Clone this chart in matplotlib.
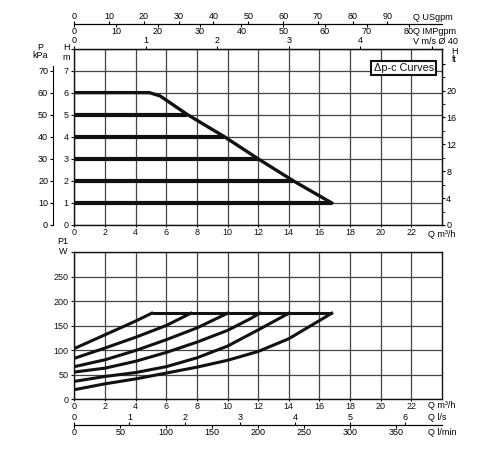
import matplotlib
matplotlib.use("Agg")
import matplotlib.pyplot as plt

plt.rcParams['font.family'] = ['Liberation Sans', 'DejaVu Sans']
plt.rcParams['font.size'] = 6.5

# unit conversions used by the extra scales
M3H_TO_USGPM = 4.403
M3H_TO_IMPGPM = 3.666
M3H_PER_MS = 4.67        # velocity in a DN40 pipe
M_TO_KPA = 10.0
M_TO_FT = 3.2808
M3H_TO_LS = 1 / 3.6
M3H_TO_LMIN = 1000 / 60

# ---- head curves (dp-c) ----
setpoints = [1, 2, 3, 4, 5]               # m
setpoint_qmax = [16.8, 14.3, 12.0, 9.8, 7.35]
limit_q = [0, 4.9, 5.6, 7.35, 9.8, 12.0, 14.3, 16.8]
limit_h = [6, 6, 5.85, 5.02, 4, 3, 2, 1]

# ---- power input P1 per setpoint (6 m down to 1 m) ----
p1_q = [
    [0, 2, 4, 5.05],
    [0, 2, 4, 6, 7.6],
    [0, 2, 4, 6, 8, 10.0],
    [0, 2, 4, 6, 8, 10, 11.5, 12.1],
    [0, 2, 4, 6, 8, 10, 12, 14.0],
    [0, 2, 4, 6, 8, 10, 12, 14, 16, 16.8],
]
p1_w = [
    [103, 131, 159, 175],
    [83, 104, 126, 150, 175],
    [66, 80, 99, 121, 145, 175],
    [55, 63, 77, 95, 116, 140, 164, 175],
    [36, 46, 54, 66, 84, 108, 141, 175],
    [19, 31, 41, 53, 65, 79, 97, 123, 160, 175],
]
p1_max_q = [5.05, 16.8]
p1_max_w = [175, 175]

q_ticks = list(range(0, 24, 2))
h_ticks = list(range(0, 9))
h_labels = [str(t) for t in range(0, 8)] + ['']
kpa_ticks = list(range(0, 80, 10))
ft_ticks = list(range(0, 25, 4))
ft_labels = [str(t) for t in range(0, 21, 4)] + ['']
ft_minor = list(range(2, 25, 4))
w_ticks = list(range(0, 301, 50))
w_labels = [str(t) for t in range(0, 251, 50)] + ['']
usgpm_ticks = list(range(0, 100, 10))
impgpm_ticks = list(range(0, 90, 10))
v_ticks = [0, 1, 2, 3, 4, 5]
v_labels = ['0', '1', '2', '3', '4', '']
ls_ticks = list(range(0, 7))
lmin_ticks = list(range(0, 400, 50))

INK = '#111111'
GRID = '#444444'

fig = plt.figure(figsize=(5, 4.5), dpi=100)
ax1 = fig.add_axes([0.1486, 0.5, 0.7354, 0.3922])
ax2 = fig.add_axes([0.1486, 0.1133, 0.7354, 0.3267])

for ax in (ax1, ax2):
    ax.set_xlim(0, 24)
    ax.set_xticks(q_ticks)
    ax.grid(True, color=GRID, lw=0.9)
    ax.set_axisbelow(True)
    ax.tick_params(axis='x', direction='out', length=1.6, width=0.8, pad=0.4,
                   labelsize=6.5, colors=INK)
    ax.tick_params(axis='y', direction='out', length=2.5, width=0.8, pad=1.5,
                   labelsize=6.5, colors=INK)
    for s in ax.spines.values():
        s.set_color(INK)
        s.set_linewidth(1.0)

# ---- top panel ----
ax1.set_ylim(0, 8)
ax1.set_yticks(h_ticks)
ax1.set_yticklabels(h_labels)
for h, qmax in zip(setpoints, setpoint_qmax):
    ax1.plot([0, qmax], [h, h], color=INK, lw=3.0, solid_capstyle='butt')
ax1.plot(limit_q, limit_h, color=INK, lw=2.4, solid_joinstyle='round')

ax1.text(21.5, 7.12, 'Δp-c Curves', ha='center', va='center', fontsize=7.8,
         family=['Liberation Sans Narrow', 'Liberation Sans'], color=INK,
         bbox=dict(boxstyle='square,pad=0.22', fc='white', ec=INK, lw=1.5))

kpa = ax1.secondary_yaxis(-0.058, functions=(lambda h: h * M_TO_KPA,
                                              lambda p: p / M_TO_KPA))
kpa.set_yticks(kpa_ticks)
kpa.tick_params(direction='out', length=2.5, pad=1, labelsize=6.5)
kpa.spines['left'].set_bounds(0, 72)

ft = ax1.secondary_yaxis('right', functions=(lambda h: h * M_TO_FT,
                                              lambda f: f / M_TO_FT))
ft.set_yticks(ft_ticks)
ft.set_yticklabels(ft_labels)
ft.set_yticks(ft_minor, minor=True)
ft.tick_params(which='both', direction='out', length=2.5, pad=0.5,
               labelsize=6.5)

vel = ax1.secondary_xaxis('top', functions=(lambda q: q / M3H_PER_MS,
                                             lambda v: v * M3H_PER_MS))
vel.set_xticks(v_ticks)
vel.set_xticklabels(v_labels)
vel.tick_params(direction='out', length=2.4, pad=0, labelsize=6.5)

us = ax1.secondary_xaxis(1.139, functions=(lambda q: q * M3H_TO_USGPM,
                                           lambda g: g / M3H_TO_USGPM))
us.set_alignment('top')
us.set_xticks(usgpm_ticks)
us.tick_params(direction='out', length=2.4, pad=0, labelsize=6.5)

imp = ax1.secondary_xaxis(1.139, functions=(lambda q: q * M3H_TO_IMPGPM,
                                            lambda g: g / M3H_TO_IMPGPM))
imp.set_alignment('bottom')
imp.set_xticks(impgpm_ticks)
imp.tick_params(direction='out', length=2.4, pad=0, labelsize=6.5)

xt = ax1.get_xaxis_transform()
ax1.text(22.1, 1.178, 'Q USgpm', transform=xt, va='center', ha='left')
ax1.text(22.1, 1.099, 'Q IMPgpm', transform=xt, va='center', ha='left')
ax1.text(22.1, 1.042, 'V m/s Ø 40', transform=xt, va='center', ha='left')
ax1.text(23.1, -0.052, 'Q m³/h', transform=xt, va='center', ha='left')

fig.text(40 / 500, 1 - 48 / 450, 'P', ha='center', va='center')
fig.text(40 / 500, 1 - 56 / 450, 'kPa', ha='center', va='center')
fig.text(66 / 500, 1 - 48 / 450, 'H', ha='center', va='center')
fig.text(66 / 500, 1 - 57 / 450, 'm', ha='center', va='center')
fig.text(454 / 500, 1 - 51 / 450, 'H', ha='center', va='center')
fig.text(454 / 500, 1 - 60 / 450, 'ft', ha='center', va='center')

# ---- bottom panel ----
ax2.set_ylim(0, 300)
ax2.set_yticks(w_ticks)
ax2.set_yticklabels(w_labels)
for qs, ws in zip(p1_q, p1_w):
    ax2.plot(qs, ws, color=INK, lw=2.2, solid_joinstyle='round')
ax2.plot(p1_max_q, p1_max_w, color=INK, lw=2.2, solid_capstyle='butt')

ls = ax2.secondary_xaxis(-0.177, functions=(lambda q: q * M3H_TO_LS,
                                            lambda l: l / M3H_TO_LS))
ls.set_alignment('top')
ls.set_xticks(ls_ticks)
ls.tick_params(direction='out', length=2.4, pad=0, labelsize=6.5)

lmin = ax2.secondary_xaxis(-0.177, functions=(lambda q: q * M3H_TO_LMIN,
                                              lambda l: l / M3H_TO_LMIN))
lmin.set_alignment('bottom')
lmin.set_xticks(lmin_ticks)
lmin.tick_params(direction='out', length=2.4, pad=0, labelsize=6.5)

xt2 = ax2.get_xaxis_transform()
ax2.text(23.1, -0.041, 'Q m³/h', transform=xt2, va='center', ha='left')
ax2.text(23.1, -0.129, 'Q l/s', transform=xt2, va='center', ha='left')
ax2.text(23.1, -0.231, 'Q l/min', transform=xt2, va='center', ha='left')

fig.text(63 / 500, 1 - 242 / 450, 'P1', ha='center', va='center')
fig.text(63 / 500, 1 - 251 / 450, 'W', ha='center', va='center')

fig.savefig('out.png', dpi=100)
